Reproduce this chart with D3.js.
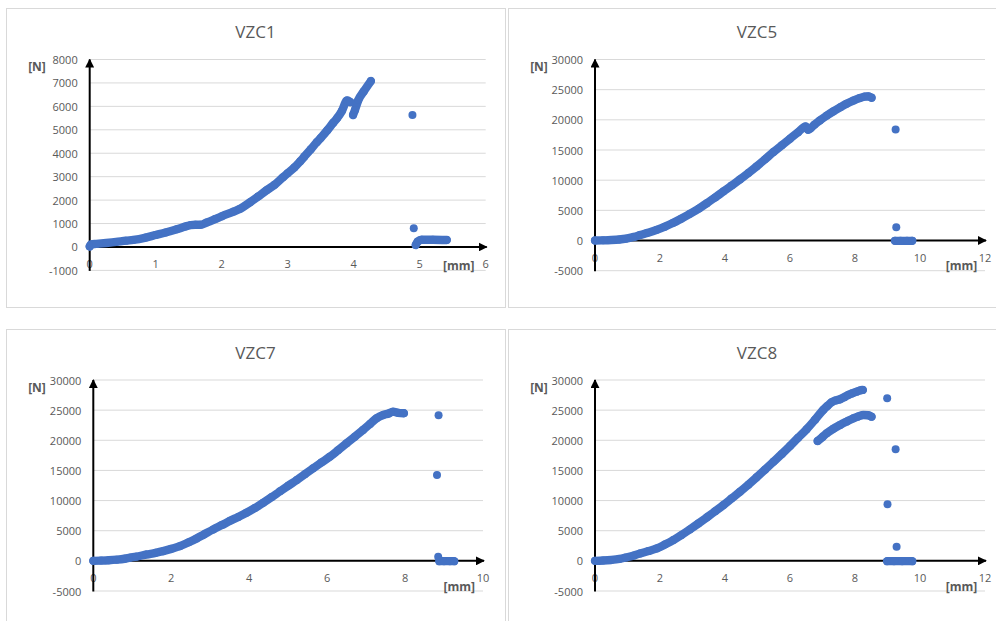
<!DOCTYPE html>
<html>
<head>
<meta charset="utf-8">
<script src="https://cdn.jsdelivr.net/npm/d3@7"></script>
<style>
  html, body { margin: 0; padding: 0; background: #fff; }
  svg { display: block; font-family: "Open Sans", "Liberation Sans", sans-serif; }
</style>
</head>
<body>
<svg id="chart" width="996" height="621"></svg>
<script>
// Force [N] against displacement [mm] for four VZC specimens.
// Each run is stored as continuous stretches of readings plus loose single readings.

const vzc1Curve = [[0.00,20],[0.02,110],[0.10,130],[0.25,170],[0.40,215],[0.55,270],[0.66,300],[0.85,400],[1.00,510],[1.15,620],[1.32,755],[1.45,870],[1.53,935],[1.60,945],[1.68,945],[1.77,1040],[1.90,1190],[2.00,1310],[2.18,1510],[2.28,1630],[2.43,1910],[2.55,2150],[2.68,2420],[2.80,2650],[2.93,2980],[3.00,3150],[3.10,3390],[3.19,3660],[3.25,3850],[3.35,4170],[3.44,4470],[3.50,4650],[3.60,4980],[3.69,5300],[3.75,5500],[3.82,5800],[3.90,6250],[3.95,6180]];
const vzc1Reload = [[3.99,5630],[4.02,5850],[4.07,6270],[4.15,6630],[4.26,7080]];
const vzc1Tail = [[4.94,85],[4.97,230],[5.03,310],[5.20,310],[5.41,300]];
const vzc1Loose = [[4.89,5630],[4.91,800]];

const vzc5Curve = [[0.00,0],[0.25,30],[0.50,80],[0.75,170],[0.95,300],[1.20,600],[1.385,900],[1.60,1250],[1.90,1770],[2.15,2300],[2.41,2930],[2.65,3620],[2.92,4420],[3.20,5300],[3.44,6190],[3.70,7150],[3.95,8130],[4.20,9100],[4.46,10120],[4.72,11200],[4.97,12280],[5.23,13450],[5.49,14660],[5.75,15800],[6.00,16870],[6.25,17950],[6.48,18910],[6.56,18360],[6.75,19200],[6.92,19910],[7.13,20700],[7.33,21400],[7.55,22100],[7.74,22680],[7.95,23200],[8.15,23610],[8.30,23850],[8.41,23890],[8.51,23670]];
const vzc5Tail = [[9.23,-50],[9.40,-50],[9.60,-50],[9.76,-50]];
const vzc5Loose = [[9.25,18420],[9.27,2210]];

const vzc7Curve = [[0.00,0],[0.20,40],[0.40,100],[0.60,200],[0.80,350],[0.94,520],[1.10,700],[1.37,1060],[1.60,1330],[1.79,1610],[2.00,1990],[2.22,2440],[2.45,3080],[2.65,3720],[2.85,4420],[3.08,5220],[3.30,5930],[3.51,6640],[3.72,7290],[3.93,7970],[4.15,8780],[4.36,9630],[4.58,10580],[4.79,11530],[5.00,12450],[5.22,13400],[5.43,14380],[5.64,15350],[5.85,16300],[6.07,17270],[6.28,18350],[6.50,19500],[6.71,20600],[6.92,21710],[7.10,22700],[7.27,23650],[7.44,24200],[7.58,24450],[7.69,24750],[7.82,24550],[7.97,24480]];
const vzc7Tail = [[8.88,-50],[9.00,-50],[9.15,-50],[9.26,-50]];
const vzc7Loose = [[8.86,24150],[8.82,14240],[8.85,670]];

const vzc8Curve = [[0.00,0],[0.25,50],[0.50,150],[0.75,320],[0.95,560],[1.20,900],[1.385,1230],[1.65,1620],[1.90,2060],[2.15,2700],[2.41,3440],[2.65,4250],[2.92,5220],[3.18,6200],[3.44,7210],[3.70,8230],[3.95,9250],[4.20,10330],[4.46,11460],[4.72,12640],[4.97,13850],[5.23,15130],[5.49,16440],[5.75,17740],[6.00,19050],[6.25,20430],[6.51,21820],[6.77,23420],[7.02,25030],[7.15,25700],[7.28,26310],[7.40,26600],[7.54,26810],[7.67,27150],[7.79,27520],[7.92,27800],[8.05,28070],[8.15,28250],[8.24,28350]];
const vzc8Branch = [[6.85,19880],[7.00,20550],[7.13,21160],[7.33,21900],[7.54,22540],[7.75,23120],[7.95,23650],[8.10,23950],[8.26,24200],[8.40,24150],[8.51,23920]];
const vzc8Tail = [[8.99,-50],[9.20,-50],[9.45,-50],[9.76,-50]];
const vzc8Loose = [[8.99,26970],[9.25,18500],[9.00,9370],[9.28,2330]];

// Axis ticks
const vzc1XTicks = [0,1,2,3,4,5,6];
const vzc1YTicks = [-1000,0,1000,2000,3000,4000,5000,6000,7000,8000];
const vzc7XTicks = [0,2,4,6,8,10];
const wideXTicks = [0,2,4,6,8,10,12];
const forceTicks = [-5000,0,5000,10000,15000,20000,25000,30000];

const titles = ["VZC1", "VZC5", "VZC7", "VZC8"];

// Layout of the 2x2 sheet: frame box and plot rectangle for every panel
const panels = [
  { title: titles[0], box: [6, 8, 499, 299], plot: { l: 89.7, t: 59.5, r: 485.7, b: 270.4 },
    xDomain: [0, 6], yDomain: [-1000, 8000], xTicks: vzc1XTicks, yTicks: vzc1YTicks,
    runs: [vzc1Curve, vzc1Reload, vzc1Tail], loose: vzc1Loose, mmDx: 27 },
  { title: titles[1], box: [508, 8, 500, 299], plot: { l: 595, t: 59.5, r: 985, b: 270.7 },
    xDomain: [0, 12], yDomain: [-5000, 30000], xTicks: wideXTicks, yTicks: forceTicks,
    runs: [vzc5Curve, vzc5Tail], loose: vzc5Loose, mmDx: 23.5 },
  { title: titles[2], box: [6, 329, 499, 300], plot: { l: 93.3, t: 380, r: 483, b: 591 },
    xDomain: [0, 10], yDomain: [-5000, 30000], xTicks: vzc7XTicks, yTicks: forceTicks,
    runs: [vzc7Curve, vzc7Tail], loose: vzc7Loose, mmDx: 23.7 },
  { title: titles[3], box: [508, 329, 500, 300], plot: { l: 595, t: 380, r: 985, b: 591 },
    xDomain: [0, 12], yDomain: [-5000, 30000], xTicks: wideXTicks, yTicks: forceTicks,
    runs: [vzc8Curve, vzc8Branch, vzc8Tail], loose: vzc8Loose, mmDx: 23.5 }
];

const svg = d3.select("#chart");
const BLUE = "#4472C4";
const TEXT = "#595959";
const GRID = "#D9D9D9";

// Arrowhead used for both axes
svg.append("defs").append("marker")
  .attr("id", "arrow")
  .attr("viewBox", "0 0 10 10")
  .attr("refX", 9).attr("refY", 5)
  .attr("markerUnits", "userSpaceOnUse")
  .attr("markerWidth", 9).attr("markerHeight", 9)
  .attr("orient", "auto")
  .append("path")
  .attr("d", "M0,0 L10,5 L0,10 Z")
  .attr("fill", "#000");

panels.forEach(p => {
  const g = svg.append("g");
  const [bx, by, bw, bh] = p.box;

  // frame
  g.append("rect")
    .attr("x", bx + 0.5).attr("y", by + 0.5)
    .attr("width", bw).attr("height", bh)
    .attr("fill", "#fff").attr("stroke", GRID).attr("stroke-width", 1);

  // title
  g.append("text")
    .attr("x", bx + bw / 2 - (bw > 499 ? 1 : 0)).attr("y", by + 23)
    .attr("text-anchor", "middle").attr("dominant-baseline", "central")
    .attr("font-size", 17).attr("fill", TEXT)
    .text(p.title);

  const x = d3.scaleLinear().domain(p.xDomain).range([p.plot.l, p.plot.r]);
  const y = d3.scaleLinear().domain(p.yDomain).range([p.plot.b, p.plot.t]);

  // horizontal gridlines
  g.append("g").selectAll("line").data(p.yTicks).join("line")
    .attr("x1", p.plot.l).attr("x2", p.plot.r)
    .attr("y1", d => y(d)).attr("y2", d => y(d))
    .attr("stroke", GRID).attr("stroke-width", 1);

  // value axis labels
  g.append("g").selectAll("text").data(p.yTicks).join("text")
    .attr("x", p.plot.l - 12).attr("y", d => y(d))
    .attr("text-anchor", "end").attr("dominant-baseline", "central")
    .attr("font-size", 11).attr("fill", TEXT)
    .text(d => d);

  // displacement labels, set just under the zero line
  g.append("g").selectAll("text").data(p.xTicks).join("text")
    .attr("x", d => x(d)).attr("y", y(0) + 16.5)
    .attr("text-anchor", "middle").attr("dominant-baseline", "central")
    .attr("font-size", 11).attr("fill", TEXT)
    .text(d => d);

  // unit labels
  g.append("text")
    .attr("x", bx + 31).attr("y", p.plot.t + 7.2)
    .attr("text-anchor", "middle").attr("dominant-baseline", "central")
    .attr("font-size", 12).attr("font-weight", "bold").attr("fill", TEXT)
    .text("[N]");
  g.append("text")
    .attr("x", p.plot.r - p.mmDx).attr("y", p.plot.b - 5)
    .attr("text-anchor", "middle").attr("dominant-baseline", "central")
    .attr("font-size", 12).attr("font-weight", "bold").attr("fill", TEXT)
    .text("[mm]");

  // arrowed axes crossing at the origin
  g.append("line")
    .attr("x1", x(0)).attr("x2", x(0))
    .attr("y1", p.plot.b + 0.5).attr("y2", p.plot.t)
    .attr("stroke", "#000").attr("stroke-width", 2)
    .attr("marker-end", "url(#arrow)");
  g.append("line")
    .attr("x1", x(0)).attr("x2", p.plot.r + 1)
    .attr("y1", y(0)).attr("y2", y(0))
    .attr("stroke", "#000").attr("stroke-width", 2)
    .attr("marker-end", "url(#arrow)");

  // densely sampled stretches drawn as a solid band of markers
  const line = d3.line().x(d => x(d[0])).y(d => y(d[1])).curve(d3.curveMonotoneX);
  g.append("g").selectAll("path").data(p.runs).join("path")
    .attr("d", line)
    .attr("fill", "none").attr("stroke", BLUE)
    .attr("stroke-width", 8.4)
    .attr("stroke-linecap", "round").attr("stroke-linejoin", "round");

  const allPts = p.runs.flat().concat(p.loose);
  g.append("g").selectAll("circle").data(allPts).join("circle")
    .attr("cx", d => x(d[0])).attr("cy", d => y(d[1]))
    .attr("r", 4).attr("fill", BLUE);
});
</script>
</body>
</html>
